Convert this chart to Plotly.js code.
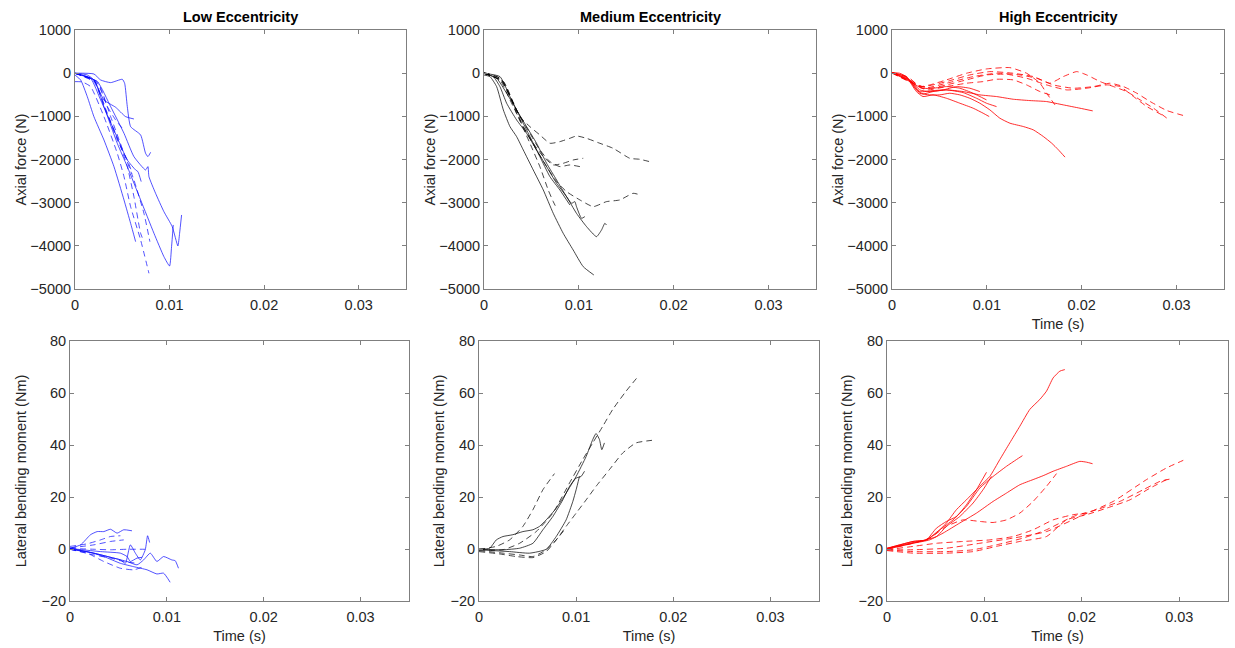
<!DOCTYPE html>
<html>
<head>
<meta charset="utf-8">
<script src="https://cdn.plot.ly/plotly-3.0.1.min.js"></script>
<style>html,body{margin:0;padding:0;background:#fff;}#chart{width:1235px;height:648px;}</style>
</head>
<body>
<div id="chart"></div>
<script>
// ---------- Panel titles and tick labels ----------
const panelTitles = ["Low Eccentricity", "Medium Eccentricity", "High Eccentricity"];
const timeTickVals = [0, 0.01, 0.02, 0.03];
const timeTickText = ["0", "0.01", "0.02", "0.03"];
const forceTickVals = [-5000, -4000, -3000, -2000, -1000, 0, 1000];
const momentTickVals = [-20, 0, 20, 40, 60, 80];

// ---------- Low eccentricity: axial force (N) ----------
const lowAxialTime = [
  [0,0.0020,0.00271,0.00377,0.0050,0.00525,0.00553,0.00588,0.00694,0.00746,0.00771,0.0080],
  [0,0.0013,0.00201,0.00306,0.0043,0.00535,0.00623],
  [0,0.0006,0.0013,0.002,0.00306,0.00412,0.00518,0.00588,0.00641],
  [0,0.00165,0.00271,0.00412,0.00553,0.00641,0.00665,0.0070],
  [0,0.002,0.00306,0.00447,0.00553,0.00694,0.00835,0.0094,0.01,0.01021,0.01039],
  [0,0.00236,0.00377,0.00518,0.00623,0.00746,0.00771,0.00782,0.00852,0.0094,0.01028,0.01088,0.01106,0.01127],
  [0,0.00077,0.00165,0.00306,0.00447,0.00518,0.00588,0.00694,0.00782],
  [0,0.002,0.00342,0.00482,0.00553,0.00623,0.00694,0.00729],
  [0,0.00236,0.00377,0.00518,0.00623,0.00729,0.00792],
  [0,0.00236,0.00342,0.0043,0.005],
  [0,0.002,0.00324,0.00447,0.00553,0.00606]
];
const lowAxialForce = [
  [0,-19,-158,-219,-142,-235,-775,-1238,-1431,-1856,-1933,-1833],
  [0,-42,-158,-621,-791,-1007,-1061],
  [-42,-158,-544,-1007,-1547,-2165,-2937,-3478,-3903],
  [-3,-119,-621,-1316,-2011,-2242,-2280,-2512],
  [-3,-158,-775,-1624,-2165,-2937,-3710,-4250,-4467,-4019,-3516],
  [-3,-196,-775,-1393,-1933,-2242,-2165,-2397,-2783,-3208,-3555,-4003,-3710,-3285],
  [-196,-204,-312,-1007,-1856,-2397,-3092,-3864,-4636],
  [-3,-158,-930,-1701,-2165,-2860,-3710,-3903],
  [-3,-196,-1007,-1856,-2474,-3247,-3903],
  [-3,-235,-775,-1084,-1277],
  [-3,-196,-853,-1547,-2011,-2319]
];
const lowAxialDashed = [false,false,false,false,false,false,true,true,true,true,true];

// ---------- Low eccentricity: lateral bending moment (Nm) ----------
const lowMomentTime = [
  [0,0.0011,0.00212,0.00281,0.00349,0.00418,0.00486,0.00555,0.0064],
  [0,0.00178,0.00349,0.0052,0.00658,0.00795,0.00897,0.00966,0.01034],
  [0,0.00247,0.00452,0.00589,0.00692,0.0076,0.00829,0.00897,0.00966,0.01051,0.01086,0.0112],
  [0,0.00247,0.00418,0.0052,0.00572,0.00623,0.00675,0.00726,0.00777,0.00801,0.00822],
  [0,0.00315,0.0052,0.00589,0.00623,0.00692,0.00743],
  [0,0.00178,0.00315,0.00418,0.0052],
  [0,0.00247,0.00418,0.00555],
  [0,0.00247,0.00418,0.00589,0.00777],
  [0,0.00178,0.00349,0.0052,0.00658,0.0076],
  [0,0.00247,0.00418,0.00555,0.00692]
];
const lowMomentValue = [
  [0.3,1.6,5.5,6.7,6.7,7.6,6.1,7.4,7.0],
  [-0.1,-1.0,-2.9,-5.5,-6.8,-8.0,-9.6,-9.3,-12.8],
  [0.3,-1.6,-3.5,-4.8,-6.1,-4.2,-1.6,-4.8,-2.9,-4.2,-4.5,-7.4],
  [-0.1,-1.6,-3.2,-4.2,-5.5,1.6,-1.6,-4.2,-0.3,5.1,2.5],
  [0.2,-1.0,-1.6,-2.9,-4.8,-3.5,-3.2],
  [1.0,2.0,3.5,4.8,5.1],
  [0.4,1.6,2.9,3.5],
  [0.2,-0.1,-0.3,-0.1,-0.1],
  [-0.1,-1.6,-4.8,-7.4,-8.0,-6.8],
  [-0.1,-2.3,-3.5,-4.8,-5.5]
];
const lowMomentDashed = [false,false,false,false,false,true,true,true,true,true];

// ---------- Medium eccentricity: axial force (N) ----------
const medAxialTime = [
  [0,0.00063,0.00133,0.00204,0.00274,0.00344,0.00414,0.00519,0.00625,0.0073,0.00835,0.0094,0.01046,0.01158],
  [0,0.00098,0.00168,0.00239,0.00344,0.00449,0.00554,0.0066,0.00765,0.0087,0.00975,0.01081,0.01186,0.01239,0.01274,0.01291],
  [0,0.00133,0.00239,0.00344,0.00449,0.00554,0.0066,0.00765,0.0087,0.00923,0.00958,0.00975,0.01028,0.01063],
  [0,0.00168,0.00274,0.00379,0.00484,0.00589,0.00695,0.008,0.00905],
  [0,0.00168,0.00274,0.00379,0.00484,0.00589,0.00695,0.008,0.00905,0.00975,0.01081,0.01221,0.01361,0.01537,0.01642,0.01747],
  [0,0.00168,0.00309,0.00414,0.00519,0.00625,0.0073,0.00835,0.0094,0.01046],
  [0,0.00204,0.00344,0.00484,0.00589,0.00695,0.008,0.00905,0.01011],
  [0,0.00168,0.00274,0.00414,0.00554,0.0066,0.00765,0.0087,0.01011,0.01151,0.01291,0.01432,0.01572,0.01649],
  [0,0.00204,0.00344,0.00484,0.00589,0.00677,0.0073,0.00765]
];
const medAxialForce = [
  [-42,-80,-312,-853,-1239,-1470,-1779,-2242,-2706,-3247,-3710,-4096,-4482,-4675],
  [-3,-80,-312,-698,-1084,-1393,-1779,-2165,-2551,-2860,-3247,-3555,-3787,-3633,-3478,-3516],
  [-3,-119,-466,-853,-1239,-1624,-2088,-2474,-2860,-3015,-2976,-3092,-3362,-3324],
  [-3,-80,-544,-1007,-1470,-1933,-2397,-2706,-3053],
  [12,-119,-544,-1007,-1239,-1431,-1624,-1586,-1509,-1455,-1509,-1624,-1740,-1972,-1995,-2050],
  [12,-119,-698,-1239,-1624,-1933,-2126,-2088,-2011,-1972],
  [-3,-196,-853,-1393,-1779,-2049,-2165,-2126,-2165],
  [-3,-158,-621,-1239,-1779,-2165,-2512,-2744,-2937,-3092,-2976,-2937,-2783,-2821],
  [-3,-196,-930,-1624,-2165,-2706,-2976,-3131]
];
const medAxialDashed = [false,false,false,false,true,true,true,true,true];

// ---------- Medium eccentricity: lateral bending moment (Nm) ----------
const medMomentTime = [
  [0,0.00247,0.00418,0.00589,0.0076,0.00932,0.01068,0.01171,0.01274,0.01377,0.01514,0.01634],
  [0,0.00247,0.00418,0.00555,0.00692,0.00795,0.00897,0.01,0.01103,0.01205,0.01342,0.01479,0.01616,0.01781],
  [0,0.00178,0.00315,0.00452,0.00555,0.00658,0.00777],
  [0,0.00212,0.00384,0.00555,0.00692,0.00795,0.0088],
  [0,0.0011,0.00178,0.00247,0.00349,0.00452,0.00555,0.00623,0.00692,0.00795,0.00897,0.01,0.01103,0.01171,0.01205,0.0124,0.01264,0.01291],
  [0,0.00247,0.00418,0.00555,0.00658,0.0076,0.00863,0.00932,0.01,0.01051,0.01086],
  [0,0.00315,0.0052,0.00692,0.00795,0.00897,0.00966,0.01,0.01034]
];
const medMomentValue = [
  [-0.3,-0.3,2.2,6.7,13.8,25.4,34.4,40.8,47.2,53.7,60.7,66.2],
  [-0.6,-1.6,-2.3,-2.9,-0.3,3.5,8.7,13.8,18.9,24.1,30.5,36.9,40.8,41.8],
  [-0.1,1.0,3.5,8.7,15.1,22.8,29.0],
  [-1.0,-1.9,-2.9,-3.3,-1.0,3.5,7.4],
  [-0.1,0.3,3.5,4.8,5.5,6.7,7.4,8.7,11.2,15.7,21.5,27.9,35.6,42.1,44.4,42.1,38.2,40.8],
  [-0.1,-0.3,0.3,2.2,7.4,12.5,18.9,24.1,27.3,27.9,29.9],
  [-0.3,-1.0,-1.6,-0.1,4.8,11.2,18.3,22.8,27.9]
];
const medMomentDashed = [true,true,true,true,false,false,false];

// ---------- High eccentricity: axial force (N) ----------
const highAxialTime = [
  [0,0.00081,0.00151,0.00222,0.00292,0.00398,0.00504,0.00609,0.00715,0.0082,0.00926,0.01032,0.01137,0.01243,0.01384,0.01489,0.01595,0.01683,0.01754,0.01824],
  [0,0.00151,0.00257,0.00327,0.00433,0.00574,0.0075,0.00926,0.01102,0.01278,0.01454,0.0163,0.01806,0.01982,0.02116],
  [0,0.00151,0.00257,0.00327,0.00433,0.00574,0.00715,0.00856,0.00961,0.01025],
  [0,0.00187,0.00292,0.00433,0.00574,0.0075,0.00891,0.00996,0.01102],
  [0,0.00222,0.0031,0.00433,0.00574,0.00715,0.00856,0.00996],
  [0,0.00204,0.00292,0.00398,0.00539,0.0068,0.0082,0.00926],
  [0,0.00187,0.00292,0.00398,0.00574,0.00785,0.00996,0.01243,0.01419,0.0156,0.0163,0.01718],
  [0,0.00222,0.00327,0.00574,0.00856,0.01102,0.01349,0.01525,0.01665,0.01806,0.01947,0.02053,0.02194,0.02335,0.02475,0.02616,0.02757,0.02898],
  [0,0.00222,0.00327,0.00574,0.0082,0.01032,0.01278,0.01489,0.01701,0.01912,0.02123,0.02299,0.0244,0.02581,0.02722,0.02898,0.03074],
  [0,0.00257,0.00398,0.00574,0.00785,0.00996,0.01208,0.01419,0.0163,0.01842,0.02053,0.02264,0.02405,0.02546,0.02687,0.02845],
  [0,0.00222,0.00363,0.00574,0.00785,0.00961,0.01102,0.01278,0.01419,0.0156,0.01701]
];
const highAxialForce = [
  [13,-2,-79,-272,-465,-503,-503,-465,-503,-581,-696,-851,-1043,-1159,-1236,-1313,-1467,-1621,-1776,-1945],
  [13,-79,-388,-480,-426,-388,-426,-503,-542,-604,-635,-658,-735,-812,-874],
  [13,-95,-426,-542,-503,-581,-696,-812,-928,-1005],
  [13,-156,-426,-403,-388,-450,-581,-696,-774],
  [13,-233,-349,-349,-311,-349,-465,-619],
  [13,-195,-388,-426,-388,-311,-349,-426],
  [13,-118,-311,-272,-156,-2,98,128,-2,-233,-465,-735],
  [13,-195,-349,-233,-79,-2,-41,-118,-233,-79,36,-41,-195,-311,-426,-619,-812,-1043],
  [13,-218,-311,-195,-41,36,-2,-79,-272,-349,-311,-233,-311,-465,-658,-866,-982],
  [-2,-272,-349,-272,-156,-41,-25,-118,-272,-388,-349,-272,-311,-542,-774,-966],
  [13,-233,-388,-311,-233,-195,-141,-156,-272,-426,-527]
];
const highAxialDashed = [false,false,false,false,false,false,true,true,true,true,true];

// ---------- High eccentricity: lateral bending moment (Nm) ----------
const highMomentTime = [
  [0,0.0013,0.00267,0.00404,0.00507,0.0061,0.00712,0.00815,0.00952,0.01055,0.01158,0.0126,0.01363,0.01466,0.01568,0.01637,0.01705,0.01774,0.01825],
  [0,0.00267,0.00404,0.00541,0.00678,0.00815,0.00952,0.01089,0.01226,0.01329,0.0139],
  [0,0.00267,0.00404,0.00507,0.0061,0.00712,0.00815,0.00918,0.01021],
  [0,0.00267,0.00438,0.00575,0.00747,0.00918,0.01089,0.01226,0.01363,0.015,0.01603,0.01705,0.01842,0.01979,0.02048,0.0211],
  [0,0.00336,0.00507,0.0061,0.00747,0.00884,0.00986,0.01072],
  [0,0.00267,0.00438,0.0061,0.00781,0.00952,0.01089,0.01226,0.01363,0.015,0.01637,0.0174],
  [0,0.00267,0.0061,0.00952,0.01295,0.01637,0.01979,0.02322,0.02664,0.0287,0.03041],
  [0,0.00267,0.0061,0.00884,0.01123,0.01397,0.01637,0.01911,0.02151,0.0239,0.0263,0.02801,0.02904],
  [0,0.00267,0.0061,0.00884,0.01123,0.01363,0.01637,0.01842,0.02048,0.02253,0.02493,0.02699,0.0287],
  [0,0.00267,0.00507,0.00781,0.01055,0.01295,0.015,0.01705,0.01911,0.02048]
];
const highMomentValue = [
  [0.3,1.6,2.9,3.5,6.1,10.0,15.1,18.9,24.1,27.9,34.4,40.8,47.2,53.7,57.5,60.7,65.8,68.4,69.0],
  [0.2,2.9,3.5,7.4,11.2,16.4,23.4,27.9,31.8,34.4,35.9],
  [0.2,2.5,3.5,8.0,10.6,12.5,17.0,22.8,29.5],
  [0.2,2.2,3.5,6.1,10.0,13.8,18.3,21.5,24.7,26.7,28.2,29.9,31.8,33.7,33.4,32.8],
  [-0.1,2.9,4.8,8.7,12.5,17.7,22.8,27.9],
  [-0.1,2.2,4.2,8.7,11.2,10.6,10.2,11.2,13.8,18.3,24.1,29.0],
  [-0.3,-0.3,0.3,2.2,4.2,6.7,12.5,18.3,26.7,31.2,34.1],
  [-0.3,-1.0,-1.0,-0.3,1.6,4.2,7.4,12.5,15.1,18.3,22.8,26.0,26.9],
  [-0.6,-1.6,-1.6,-1.0,1.0,2.9,4.8,11.2,13.2,15.7,18.9,23.4,26.7],
  [-0.3,1.0,2.2,2.9,3.5,4.8,7.4,11.2,13.2,13.8]
];
const highMomentDashed = [false,false,false,false,false,true,true,true,true,true];

// ---------- Build traces ----------
const panelColors = ["rgba(0,0,255,0.68)", "rgba(0,0,0,0.72)", "rgba(255,0,0,0.82)"];
const traces = [];
function addPanel(times, values, dashed, color, axisNum) {
  const xa = axisNum === 1 ? "x" : "x" + axisNum;
  const ya = axisNum === 1 ? "y" : "y" + axisNum;
  times.forEach((t, i) => {
    traces.push({
      type: "scatter", mode: "lines", x: t, y: values[i],
      xaxis: xa, yaxis: ya, showlegend: false, hoverinfo: "skip",
      line: { color: color, width: 1, dash: dashed[i] ? "6px,4px" : "solid", shape: "spline", smoothing: 0.5 }
    });
  });
}
addPanel(lowAxialTime, lowAxialForce, lowAxialDashed, panelColors[0], 1);
addPanel(medAxialTime, medAxialForce, medAxialDashed, panelColors[1], 2);
addPanel(highAxialTime, highAxialForce, highAxialDashed, panelColors[2], 3);
addPanel(lowMomentTime, lowMomentValue, lowMomentDashed, panelColors[0], 4);
addPanel(medMomentTime, medMomentValue, medMomentDashed, panelColors[1], 5);
addPanel(highMomentTime, highMomentValue, highMomentDashed, panelColors[2], 6);

// ---------- Layout ----------
const W = 1235, H = 648;
const fontFam = "Liberation Sans, Arial, Helvetica, sans-serif";
const tickFont = { family: fontFam, size: 14.5, color: "#262626" };
const titleFont = { family: fontFam, size: 14.5, color: "#262626" };
function xAxis(x0, x1, anchor, showTitle) {
  return {
    domain: [x0 / W, x1 / W], anchor: anchor, range: [0, 0.035],
    tickmode: "array", tickvals: timeTickVals, ticktext: timeTickText,
    ticks: "inside", ticklen: 4, tickcolor: "#7f7f7f", tickwidth: 1, ticklabelstandoff: 3,
    showline: true, linecolor: "#7f7f7f", linewidth: 1, mirror: "ticks",
    showgrid: false, zeroline: false, tickfont: tickFont, fixedrange: true,
    title: showTitle ? { text: "Time (s)", font: titleFont, standoff: 6 } : { text: "" }
  };
}
function yAxis(y0, y1, anchor, range, vals, label, standoff) {
  return {
    domain: [1 - y1 / H, 1 - y0 / H], anchor: anchor, range: range,
    tickmode: "array", tickvals: vals,
    ticks: "inside", ticklen: 4, tickcolor: "#7f7f7f", tickwidth: 1,
    showline: true, linecolor: "#7f7f7f", linewidth: 1, mirror: "ticks",
    showgrid: false, zeroline: false, tickfont: tickFont, fixedrange: true,
    title: { text: label, font: titleFont, standoff: standoff }
  };
}
const axialLabel = "Axial force (N)";
const momentLabel = "Lateral bending moment (Nm)";
const layout = {
  width: W, height: H, margin: { l: 0, r: 0, t: 0, b: 0 },
  paper_bgcolor: "#fff", plot_bgcolor: "#fff", showlegend: false,
  xaxis: xAxis(75, 406, "y", false),
  yaxis: yAxis(30, 289, "x", [-5000, 1000], forceTickVals, axialLabel, 0),
  xaxis2: xAxis(484, 816, "y2", false),
  yaxis2: yAxis(30, 289, "x2", [-5000, 1000], forceTickVals, axialLabel, 0),
  xaxis3: xAxis(892, 1224, "y3", true),
  yaxis3: yAxis(30, 289, "x3", [-5000, 1000], forceTickVals, axialLabel, 0),
  xaxis4: xAxis(70, 409, "y4", true),
  yaxis4: yAxis(341, 601, "x4", [-20, 80], momentTickVals, momentLabel, 11),
  xaxis5: xAxis(479, 819, "y5", true),
  yaxis5: yAxis(341, 601, "x5", [-20, 80], momentTickVals, momentLabel, 2),
  xaxis6: xAxis(887, 1228, "y6", true),
  yaxis6: yAxis(341, 601, "x6", [-20, 80], momentTickVals, momentLabel, 2),
  annotations: panelTitles.map((txt, i) => ({
    text: "<b>" + txt + "</b>", xref: "paper", yref: "paper",
    x: [240.5 / W, 650 / W, 1058 / W][i], y: 1 - 17 / H,
    xanchor: "center", yanchor: "middle", showarrow: false,
    font: { family: fontFam, size: 14.5, color: "#000" }
  }))
};
Plotly.newPlot("chart", traces, layout, { displayModeBar: false, staticPlot: true });
</script>
</body>
</html>
